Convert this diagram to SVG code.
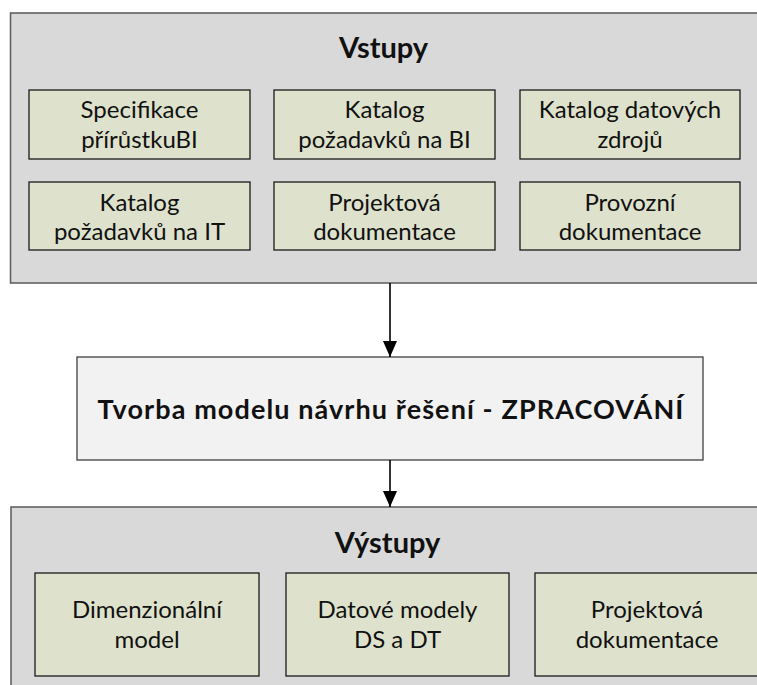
<svg xmlns="http://www.w3.org/2000/svg" width="757" height="685" viewBox="0 0 757 685">
<style>
.cont{fill:#d9d9d9;stroke:#5a5a5a;stroke-width:1.5}
.item{fill:#dee2cc;stroke:#1a1a1a;stroke-width:1.3}
.proc{fill:#f2f2f2;stroke:#404040;stroke-width:1.3}
text{font-family:Lato,"Liberation Sans",sans-serif;fill:#111;text-anchor:middle}
.t{font-size:24px}
.h{font-size:29px;font-weight:bold}
.m{font-size:27px;font-weight:bold;letter-spacing:1.1px}
.conn{stroke:#000;stroke-width:1.6;fill:none}
</style>
<defs>
<marker id="ah" markerWidth="16" markerHeight="14" refX="16" refY="7" orient="auto" markerUnits="userSpaceOnUse" viewBox="0 0 16 14">
<path d="M0,0 L16,7 L0,14 Z" fill="#000"/>
</marker>
</defs>
<rect width="757" height="685" fill="#fff"/>

<g id="vstupy">
<rect class="cont" x="10.5" y="13" width="760" height="270"/>
<text class="h" x="383.5" y="58">Vstupy</text>
</g>
<g id="in1"><rect class="item" x="29" y="90" width="221" height="69"/>
<text class="t" x="139.5" y="118">Specifikace</text><text class="t" x="139.5" y="148">přírůstkuBI</text></g>
<g id="in2"><rect class="item" x="274" y="90" width="221" height="69"/>
<text class="t" x="384.5" y="118">Katalog</text><text class="t" x="384.5" y="148">požadavků na BI</text></g>
<g id="in3"><rect class="item" x="520" y="90" width="220" height="69"/>
<text class="t" x="630" y="118">Katalog datových</text><text class="t" x="630" y="148">zdrojů</text></g>
<g id="in4"><rect class="item" x="29" y="182" width="221" height="68"/>
<text class="t" x="139.5" y="211">Katalog</text><text class="t" x="139.5" y="240">požadavků na IT</text></g>
<g id="in5"><rect class="item" x="274" y="182" width="221" height="68"/>
<text class="t" x="384.5" y="211">Projektová</text><text class="t" x="384.5" y="240">dokumentace</text></g>
<g id="in6"><rect class="item" x="520" y="182" width="220" height="68"/>
<text class="t" x="630" y="211">Provozní</text><text class="t" x="630" y="240">dokumentace</text></g>

<g id="zpracovani">
<rect class="proc" x="77" y="357" width="626" height="103"/>
<text class="m" x="391" y="419">Tvorba modelu návrhu řešení - ZPRACOVÁNÍ</text>
</g>

<g id="vystupy">
<rect class="cont" x="11" y="507" width="760" height="200"/>
<text class="h" x="387.5" y="553">Výstupy</text>
</g>
<g id="out1"><rect class="item" x="35" y="573" width="224" height="103"/>
<text class="t" x="147" y="618">Dimenzionální</text><text class="t" x="147" y="648">model</text></g>
<g id="out2"><rect class="item" x="286" y="573" width="223" height="103"/>
<text class="t" x="397.5" y="618">Datové modely</text><text class="t" x="397.5" y="648">DS a DT</text></g>
<g id="out3"><rect class="item" x="535" y="573" width="224" height="103"/>
<text class="t" x="647" y="618">Projektová</text><text class="t" x="647" y="648">dokumentace</text></g>

<g id="connectors">
<line class="conn" x1="390" y1="283" x2="390" y2="357" marker-end="url(#ah)"/>
<line class="conn" x1="390" y1="460" x2="390" y2="507" marker-end="url(#ah)"/>
</g>
</svg>
